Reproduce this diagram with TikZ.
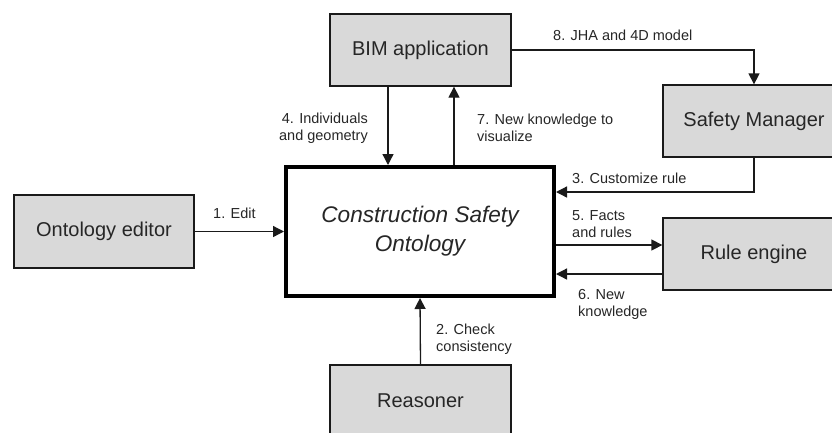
\documentclass[tikz,border=0pt]{standalone}
\usepackage{fontspec}
\setmainfont{Liberation Sans}
\usetikzlibrary{arrows.meta}
\definecolor{boxfill}{HTML}{D9D9D9}
\definecolor{txt}{HTML}{262626}
\definecolor{edge}{HTML}{1A1A1A}
\tikzset{
  sysbox/.style={draw=edge, line width=1.3pt, fill=boxfill, rectangle,
    minimum width=181pt, minimum height=72pt, inner sep=0pt,
    font=\fontsize{20}{24}\selectfont, text=txt},
  corebox/.style={draw=black, line width=4pt, fill=white, rectangle,
    minimum width=268pt, minimum height=129pt, inner sep=0pt,
    font=\fontsize{22.6}{29}\selectfont\itshape, text=txt, align=center},
  conn/.style={draw=edge, line width=1.3pt, -{Triangle[length=11pt,width=11pt]}},
  lbl/.style={inner sep=0pt, text=txt, font=\fontsize{14.5}{17}\selectfont}
}
\begin{document}
\begin{tikzpicture}[x=1pt,y=-1pt]
\useasboundingbox (0,0) rectangle (832,432);
\clip (0,0) rectangle (832,432);
% nodes
\node[sysbox] (bim) at (420.5,50) {BIM application};
\node[sysbox, minimum width=182pt] (sm) at (754,121) {Safety Manager};
\node[sysbox, minimum width=180pt, minimum height=73pt] (oe) at (104,231.5) {Ontology editor};
\node[corebox] (cso) at (420,231.5) {Construction Safety\\Ontology};
\node[sysbox, minimum width=182pt] (re) at (754,254) {Rule engine};
\node[sysbox] (rs) at (420.5,401) {Reasoner};
% helper coordinates
\coordinate (c3) at ([yshift=39.5pt]cso.east);
\coordinate (c5) at ([yshift=-13.5pt]cso.east);
\coordinate (c6) at ([yshift=-42.5pt]cso.east);
% connectors
\draw[conn] (bim.east) -| (sm.north);
\draw[conn] ([xshift=-32.5pt]bim.south) -- ([xshift=-32pt]cso.north);
\draw[conn] ([xshift=34pt]cso.north) -- ([xshift=33.5pt]bim.south);
\draw[conn] (oe.east) -- (cso.west);
\draw[conn] (rs.north) -- (cso.south);
\draw[conn] (sm.south) |- (c3);
\draw[conn] (c5) -- (c5 -| re.west);
\draw[conn] (c6 -| re.west) -- (c6);
% labels
\node[lbl, anchor=west] (l8) at (553,35) {8. JHA and 4D model};
\node[lbl, anchor=east, align=right] (l4) at (368,128) {4. Individuals\\and geometry};
\node[lbl, anchor=west, align=left] (l7) at (477,128) {7. New knowledge to\\visualize};
\node[lbl, anchor=west] (l3) at (572,178) {3. Customize rule};
\node[lbl, anchor=west] (l1) at (213,213) {1. Edit};
\node[lbl, anchor=west, align=left] (l5) at (572,224) {5. Facts\\and rules};
\node[lbl, anchor=west, align=left] (l6) at (578,304) {6. New\\knowledge};
\node[lbl, anchor=west, align=left] (l2) at (436,339) {2. Check\\consistency};
\end{tikzpicture}
\end{document}
